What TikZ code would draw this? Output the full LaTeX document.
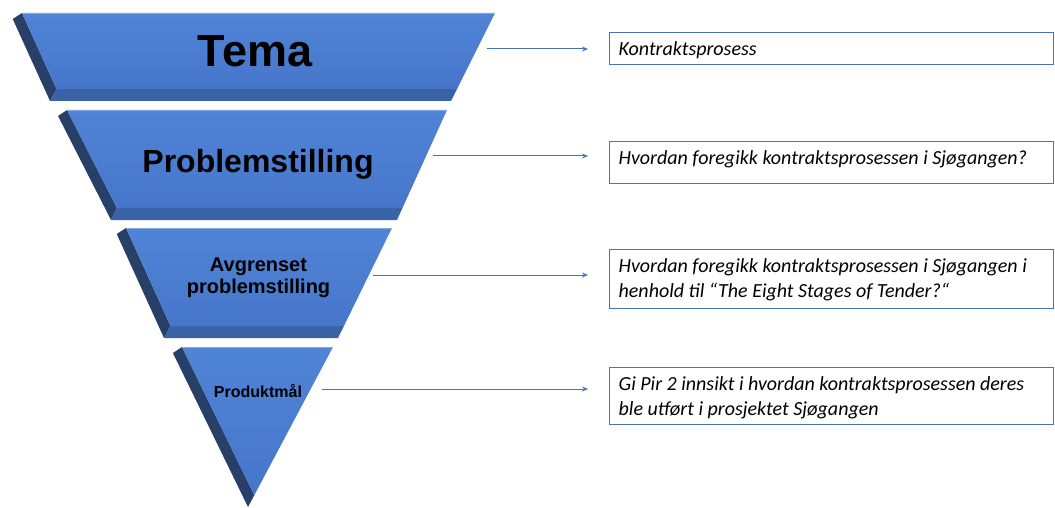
\documentclass[tikz,border=0pt]{standalone}
\usepackage{fontspec}
\setmainfont{Liberation Sans}
\newfontfamily\carlito{Carlito}
\usetikzlibrary{arrows.meta,calc}
\definecolor{facetop}{HTML}{5084D6}
\definecolor{facebot}{HTML}{4676CA}
\definecolor{bevdark}{HTML}{283F68}
\definecolor{bevbot}{HTML}{3A62A6}
\definecolor{hilite}{HTML}{86A8E4}
\definecolor{boxblue}{HTML}{4472C4}
\definecolor{arrblue}{HTML}{4472C4}

% yt yb xlt xlb xrt xrb
\newcommand\funnelseg[6]{%
  \pgfmathsetmacro\fsL{(#4-#3)/(#2-#1)}%
  \pgfmathsetmacro\fsR{(#6-#5)/(#2-#1)}%
  \pgfmathsetmacro\fyF{#2-12}%
  \pgfmathsetmacro\fxF{#3+12+\fsL*(\fyF-#1)}%
  \pgfmathsetmacro\fxG{#5+\fsR*(\fyF-#1)}%
  \pgfmathsetmacro\fxA{#3+6*\fsL}%
  \fill[bevdark] ({\fxA},{#1+6}) -- ({#3+12},{#1}) -- ({\fxF},{\fyF}) -- ({#4},{#2}) -- cycle;
  \fill[bevbot] ({\fxF},{\fyF}) -- ({\fxG},{\fyF}) -- ({#6},{#2}) -- ({#4},{#2}) -- cycle;
  \shade[top color=facetop, bottom color=facebot] ({#3+12},{#1}) -- ({#5},{#1}) -- ({\fxG},{\fyF}) -- ({\fxF},{\fyF}) -- cycle;
  \draw[hilite, line width=1.2pt] ({#3+12},{#1+0.6}) -- ({#5},{#1+0.6});
}

\newcommand\boxtext[2]{\parbox[c][#1][t]{426pt}{\raggedright\fontsize{20}{25}\selectfont\carlito\itshape\vspace*{5pt}\strut #2}}

\tikzset{
  funnellbl/.style={text=black, inner sep=0pt, font=\bfseries},
  infobox/.style={draw=boxblue, line width=1.3pt, fill=white, anchor=north west, inner xsep=9pt, inner ysep=0pt},
  conn/.style={draw=arrblue, line width=1pt, -{Stealth[length=6pt,width=5pt]}}
}

\begin{document}
\begin{tikzpicture}[x=1pt,y=-1pt]
\useasboundingbox (0,0) rectangle (1055,508);

% funnel segments
\funnelseg{13}{101}{10}{50}{495}{451}
\funnelseg{110}{220}{55}{111}{447}{397}
\funnelseg{228}{338}{114}{164}{392}{338}
% triangle
\fill[bevdark] (172.9,353) -- (182,347) -- (254.3,495.2) -- (248,507) -- cycle;
\shade[top color=facetop, bottom color=facebot] (182,347) -- (333,347) -- (254.3,495.2) -- cycle;
\draw[hilite, line width=1.2pt] (182,347.6) -- (333,347.6);

% funnel labels
\node[funnellbl, font=\fontsize{45}{45}\selectfont\bfseries, anchor=base] (tema) at (255,67) {Tema};
\node[funnellbl, font=\fontsize{32}{32}\selectfont\bfseries, anchor=base] (prob) at (258,172) {Problemstilling};
\node[funnellbl, font=\fontsize{20}{22}\selectfont\bfseries, align=center] (avgr) at (258.5,278) {Avgrenset\\problemstilling};
\node[funnellbl, font=\fontsize{16}{16}\selectfont\bfseries, anchor=base] (prod) at (258,397) {Produktmål};

% boxes
\node[infobox] (b1) at (609,32) {\boxtext{32pt}{Kontraktsprosess}};
\node[infobox] (b2) at (609,141) {\boxtext{42pt}{Hvordan foregikk kontraktsprosessen i Sjøgangen?}};
\node[infobox] (b3) at (609,249) {\boxtext{59pt}{Hvordan foregikk kontraktsprosessen i Sjøgangen i henhold til “The Eight Stages of Tender?“}};
\node[infobox] (b4) at (609,367) {\boxtext{57pt}{Gi Pir 2 innsikt i hvordan kontraktsprosessen deres ble utført i prosjektet Sjøgangen}};

% connectors
\coordinate (s1) at (487,49);  \coordinate (e1) at (588,49);
\coordinate (s2) at (433,156); \coordinate (e2) at (588,156);
\coordinate (s3) at (373,275); \coordinate (e3) at (588,275);
\coordinate (s4) at (322,389); \coordinate (e4) at (588,389);
\draw[conn] (s1) -- (e1);
\draw[conn] (s2) -- (e2);
\draw[conn] (s3) -- (e3);
\draw[conn] (s4) -- (e4);
\end{tikzpicture}
\end{document}
